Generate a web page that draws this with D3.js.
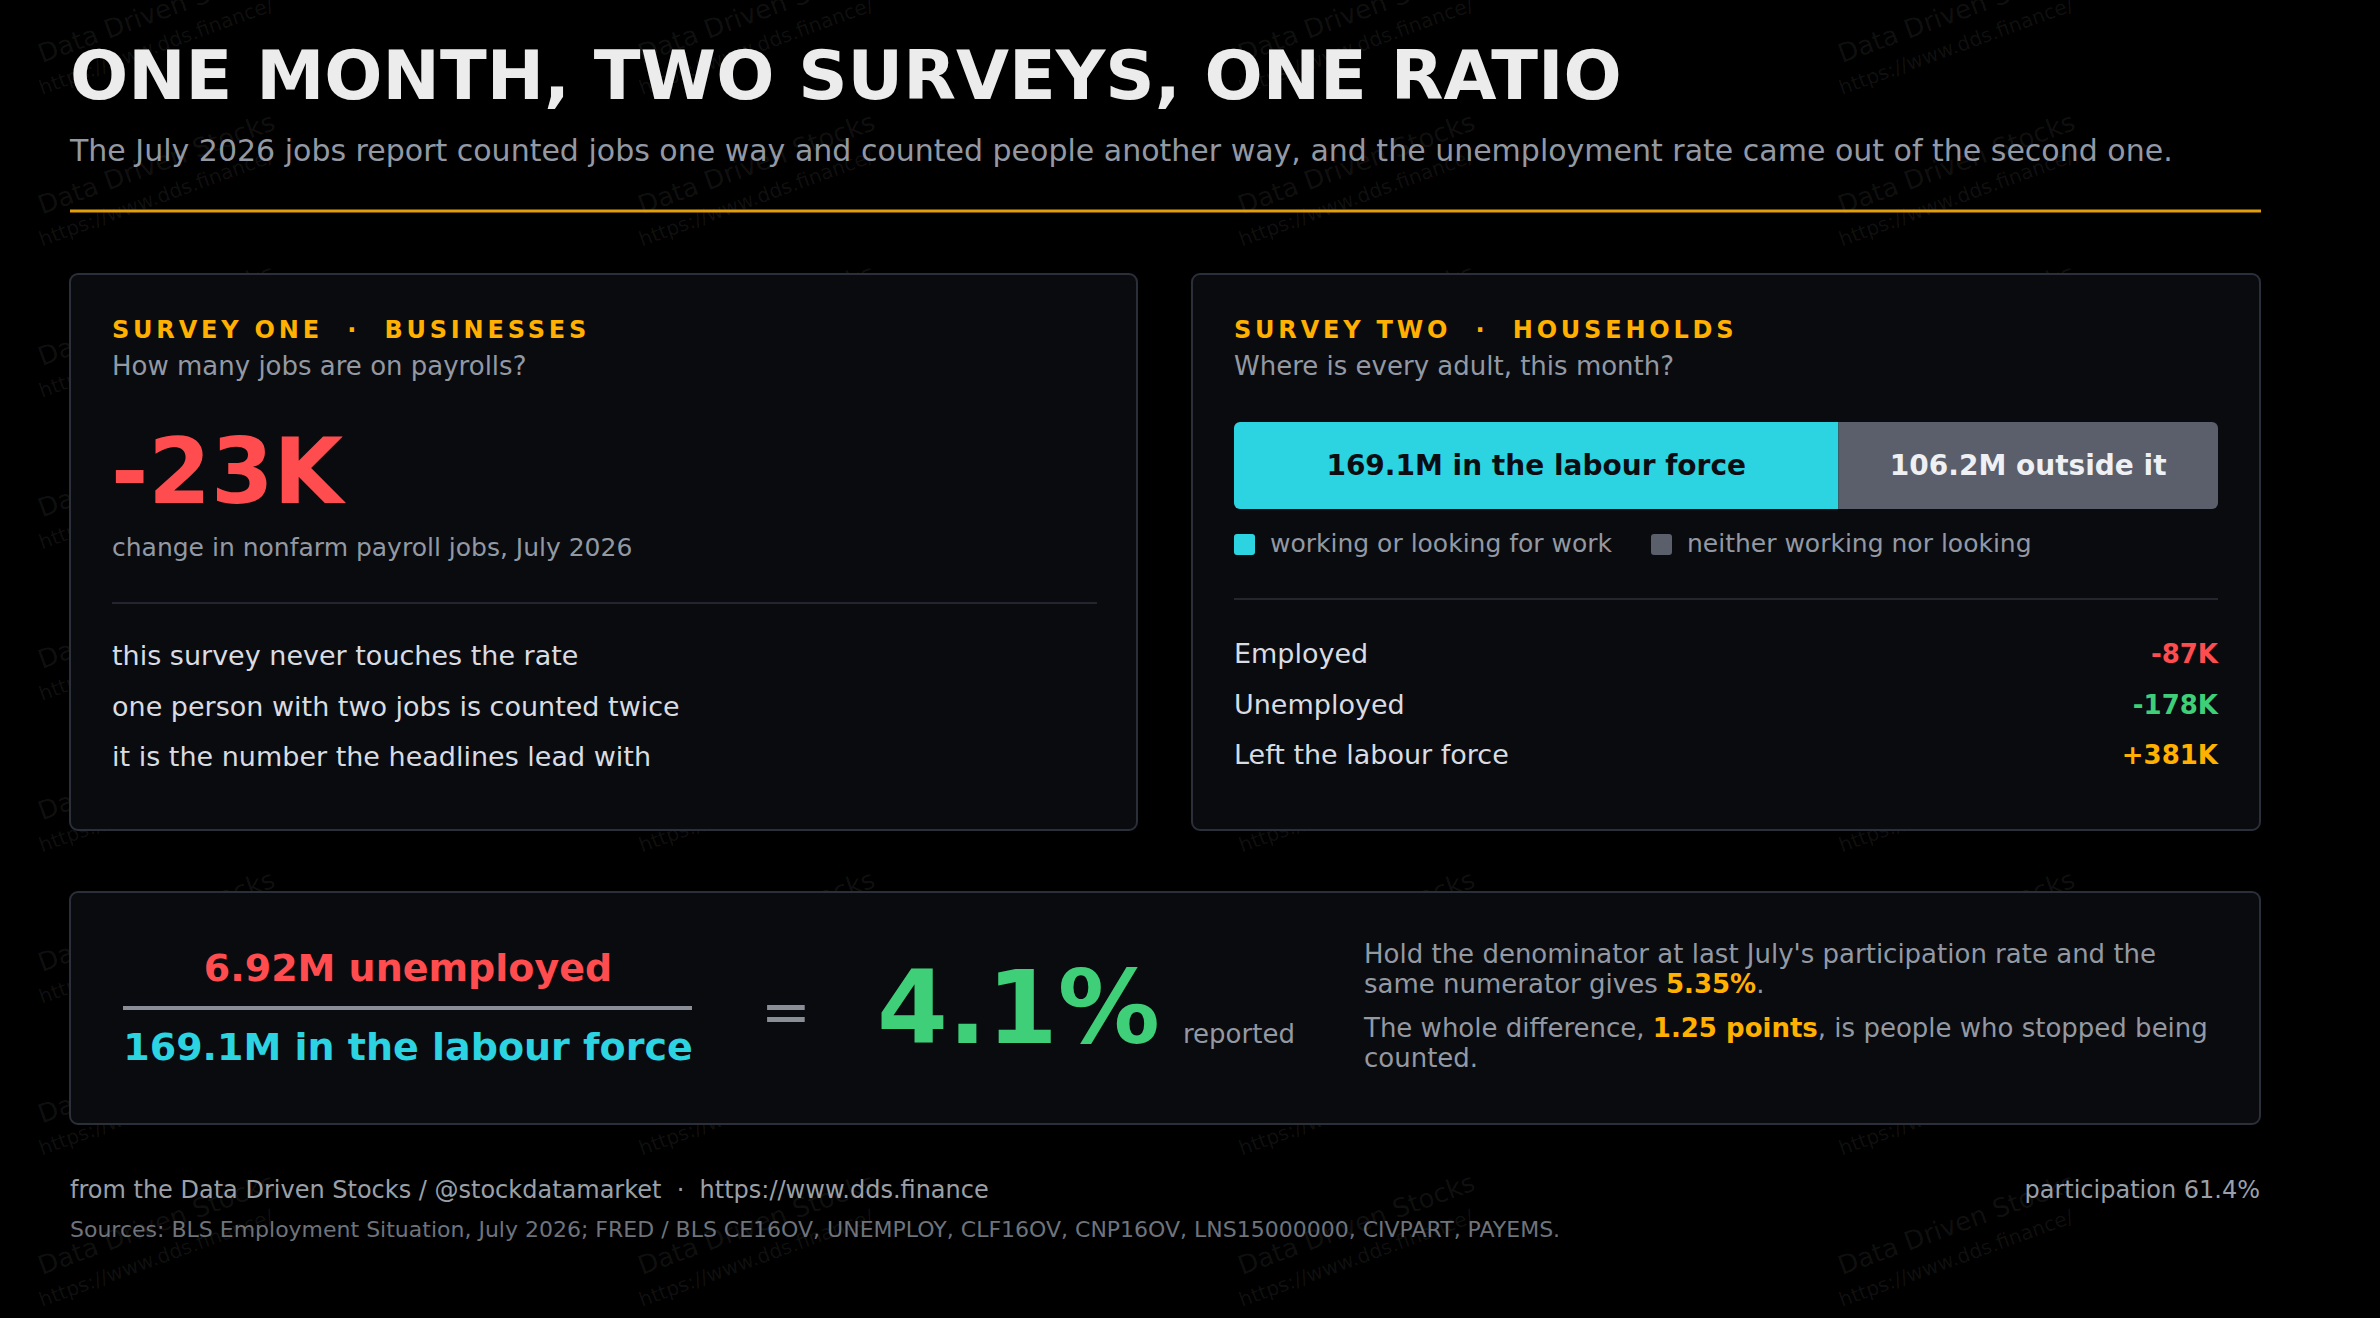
<!DOCTYPE html>
<html>
<head>
<meta charset="utf-8">
<script src="https://cdn.jsdelivr.net/npm/d3@7"></script>
<style>
html, body { margin: 0; padding: 0; background: #000; }
svg { display: block; }
text { font-family: "DejaVu Sans", sans-serif; }
.pre { white-space: pre; }
</style>
</head>
<body>
<div id="chart"></div>
<script>

// households survey, millions of adults 16+
var popGroups = ["in", "out"];
var popValues = [169.1, 106.2];
var popLabels = ["169.1M in the labour force", "106.2M outside it"];
var legendLabels = ["working or looking for work", "neither working nor looking"];

// household survey monthly changes, thousands
var hhRows = ["Employed", "Unemployed", "Left the labour force"];
var hhChanges = [-87, -178, 381];

// establishment survey
var payrollChange = -23;   // thousands
var payrollNotes = ["this survey never touches the rate",
                    "one person with two jobs is counted twice",
                    "it is the number the headlines lead with"];

// the ratio
var unemployed = 6.92, labourForce = 169.1, rateReported = 4.1;
var rateHeld = 5.35, rateGap = 1.25, participation = 61.4;

var W = 2380, H = 1318;
var red = "#ff4d4f", green = "#3ecf78", amber = "#ffb000", cyan = "#2cd3e0", slate = "#5a5f6b";
var hhColors = [red, green, amber];
var grey = "#9399a3", light = "#d9dce2";

var svg = d3.select("#chart")
  .append("svg")
    .attr("width", W)
    .attr("height", H);

svg.append("rect").attr("width", W).attr("height", H).attr("fill", "#000");

// faint watermark tiles, behind everything
var wm = svg.append("g").attr("fill", "#fff").attr("fill-opacity", 0.07);
d3.range(4).forEach(function(i) {
  d3.range(9).forEach(function(j) {
    var g = wm.append("g").attr("transform", "translate(" + (42 + i * 600) + "," + (63 + j * 151.5) + ")");
    g.append("text").attr("transform", "rotate(-20)").style("font-size", "26px").text("Data Driven Stocks");
    g.append("text").attr("transform", "translate(0,32) rotate(-20)").style("font-size", "20px")
      .text("https://www.dds.finance/");
  });
});

// header
svg.append("text").attr("x", 70).attr("y", 99)
  .style("font-size", "68.5px").style("font-weight", "bold").attr("fill", "#ececec")
  .text("ONE MONTH, TWO SURVEYS, ONE RATIO");
svg.append("text").attr("x", 70).attr("y", 161)
  .style("font-size", "30px").attr("fill", grey)
  .text("The July 2026 jobs report counted jobs one way and counted people another way, and the unemployment rate came out of the second one.");
svg.append("line").attr("x1", 70).attr("x2", 2261).attr("y1", 211).attr("y2", 211)
  .attr("stroke", "#e39e0b").attr("stroke-width", 3);

function card(x, y, w, h) {
  svg.append("rect").attr("x", x).attr("y", y).attr("width", w).attr("height", h)
    .attr("rx", 8).attr("fill", "#0a0b0f").attr("stroke", "#2a2f3a").attr("stroke-width", 2);
}
function kicker(x, t) {
  svg.append("text").attr("class", "pre").attr("x", x).attr("y", 338)
    .style("font-size", "24px").style("font-weight", "bold").style("letter-spacing", "3.8px")
    .attr("fill", amber).text(t);
}
function kFmt(v) { return (v > 0 ? "+" : "") + v + "K"; }

// ---- card 1: establishment survey
card(70, 274, 1067, 556);
kicker(112, "SURVEY ONE  \u00b7  BUSINESSES");
svg.append("text").attr("x", 112).attr("y", 375).style("font-size", "26px").attr("fill", grey)
  .text("How many jobs are on payrolls?");
svg.append("text").attr("x", 111).attr("y", 503)
  .style("font-size", "90px").style("font-weight", "bold").attr("fill", red)
  .text(kFmt(payrollChange));
svg.append("text").attr("x", 112).attr("y", 556).style("font-size", "25px").attr("fill", grey)
  .text("change in nonfarm payroll jobs, July 2026");
svg.append("line").attr("x1", 112).attr("x2", 1097).attr("y1", 603).attr("y2", 603)
  .attr("stroke", "#23262e").attr("stroke-width", 2);

var noteY = d3.scalePoint().domain(payrollNotes).range([665, 766]);
svg.selectAll("text.note")
  .data(payrollNotes)
  .enter()
  .append("text")
    .attr("class", "note")
    .attr("x", 112)
    .attr("y", function(d) { return noteY(d); })
    .style("font-size", "27px")
    .attr("fill", light)
    .text(function(d) { return d; });

// ---- card 2: household survey
card(1192, 274, 1068, 556);
kicker(1234, "SURVEY TWO  \u00b7  HOUSEHOLDS");
svg.append("text").attr("x", 1234).attr("y", 375).style("font-size", "26px").attr("fill", grey)
  .text("Where is every adult, this month?");

var popStart = [0];
popValues.forEach(function(v, i) { popStart.push(popStart[i] + v); });
var bx = d3.scaleLinear().domain([0, d3.sum(popValues)]).range([1234, 2218]);
var popColor = d3.scaleOrdinal().domain(popGroups).range([cyan, slate]);
var barTop = 422, barH = 87;

svg.append("clipPath").attr("id", "barclip")
  .append("rect").attr("x", bx(0)).attr("y", barTop)
    .attr("width", bx(d3.sum(popValues)) - bx(0)).attr("height", barH).attr("rx", 6);

var seg = svg.append("g").attr("clip-path", "url(#barclip)");
seg.selectAll("rect")
  .data(popGroups)
  .enter()
  .append("rect")
    .attr("x", function(d, i) { return bx(popStart[i]); })
    .attr("y", barTop)
    .attr("width", function(d, i) { return bx(popStart[i] + popValues[i]) - bx(popStart[i]); })
    .attr("height", barH)
    .attr("fill", function(d) { return popColor(d); });

svg.selectAll("text.seg")
  .data(popGroups)
  .enter()
  .append("text")
    .attr("class", "seg")
    .attr("x", function(d, i) { return bx(popStart[i] + popValues[i] / 2); })
    .attr("y", barTop + 53)
    .attr("text-anchor", "middle")
    .style("font-size", "28px").style("font-weight", "bold")
    .attr("fill", function(d, i) { return i === 0 ? "#0b0d12" : "#eef0f3"; })
    .text(function(d, i) { return popLabels[i]; });

var legX = [1234, 1651];
popGroups.forEach(function(d, i) {
  svg.append("rect").attr("x", legX[i]).attr("y", 534).attr("width", 21).attr("height", 21)
    .attr("rx", 3).attr("fill", popColor(d));
  svg.append("text").attr("x", legX[i] + 36).attr("y", 552).style("font-size", "25px").attr("fill", grey)
    .text(legendLabels[i]);
});

svg.append("line").attr("x1", 1234).attr("x2", 2218).attr("y1", 599).attr("y2", 599)
  .attr("stroke", "#23262e").attr("stroke-width", 2);

var rowY = d3.scalePoint().domain(hhRows).range([663, 764]);
svg.selectAll("text.rowlab")
  .data(hhRows)
  .enter()
  .append("text")
    .attr("class", "rowlab")
    .attr("x", 1234)
    .attr("y", function(d) { return rowY(d); })
    .style("font-size", "27px")
    .attr("fill", light)
    .text(function(d) { return d; });
svg.selectAll("text.rowval")
  .data(hhChanges)
  .enter()
  .append("text")
    .attr("class", "rowval")
    .attr("x", 2218)
    .attr("y", function(d, i) { return rowY(hhRows[i]); })
    .attr("text-anchor", "end")
    .style("font-size", "26px").style("font-weight", "bold")
    .attr("fill", function(d, i) { return hhColors[i]; })
    .text(function(d) { return kFmt(d); });

// ---- card 3: the ratio
card(70, 892, 2190, 232);
svg.append("text").attr("x", 408).attr("y", 981).attr("text-anchor", "middle")
  .style("font-size", "38px").style("font-weight", "bold").attr("fill", red)
  .text(unemployed.toFixed(2) + "M unemployed");
svg.append("line").attr("x1", 123).attr("x2", 692).attr("y1", 1008).attr("y2", 1008)
  .attr("stroke", "#8a8e96").attr("stroke-width", 4);
svg.append("text").attr("x", 408).attr("y", 1060).attr("text-anchor", "middle")
  .style("font-size", "38px").style("font-weight", "bold").attr("fill", cyan)
  .text(labourForce.toFixed(1) + "M in the labour force");
svg.append("text").attr("x", 786).attr("y", 1032).attr("text-anchor", "middle")
  .style("font-size", "60px").attr("fill", "#8a8e96").text("=");
svg.append("text").attr("x", 877).attr("y", 1043)
  .style("font-size", "102px").style("font-weight", "bold").attr("fill", green)
  .text(rateReported.toFixed(1) + "%");
svg.append("text").attr("x", 1183).attr("y", 1043).style("font-size", "26px").attr("fill", grey)
  .text("reported");

var paraLines = [
  [["Hold the denominator at last July's participation rate and the", 0]],
  [["same numerator gives ", 0], [rateHeld.toFixed(2) + "%", 1], [".", 0]],
  [["The whole difference, ", 0], [rateGap.toFixed(2) + " points", 1], [", is people who stopped being", 0]],
  [["counted.", 0]]
];
var paraY = [963, 993, 1037, 1067];
paraLines.forEach(function(line, i) {
  var t = svg.append("text").attr("class", "pre").attr("x", 1364).attr("y", paraY[i])
    .style("font-size", "26px").attr("fill", grey);
  line.forEach(function(s) {
    t.append("tspan").text(s[0])
      .style("font-weight", s[1] ? "bold" : "normal")
      .attr("fill", s[1] ? amber : grey);
  });
});

// ---- footer
svg.append("text").attr("class", "pre").attr("x", 70).attr("y", 1198)
  .style("font-size", "24px").attr("fill", "#9ba0a8")
  .text("from the Data Driven Stocks / @stockdatamarket  \u00b7  https://www.dds.finance");
svg.append("text").attr("x", 2260).attr("y", 1198).attr("text-anchor", "end")
  .style("font-size", "24px").attr("fill", "#9ba0a8")
  .text("participation " + participation.toFixed(1) + "%");
svg.append("text").attr("x", 70).attr("y", 1237)
  .style("font-size", "22px").attr("fill", "#6e737c")
  .text("Sources: BLS Employment Situation, July 2026; FRED / BLS CE16OV, UNEMPLOY, CLF16OV, CNP16OV, LNS15000000, CIVPART, PAYEMS.");

</script>
</body>
</html>
